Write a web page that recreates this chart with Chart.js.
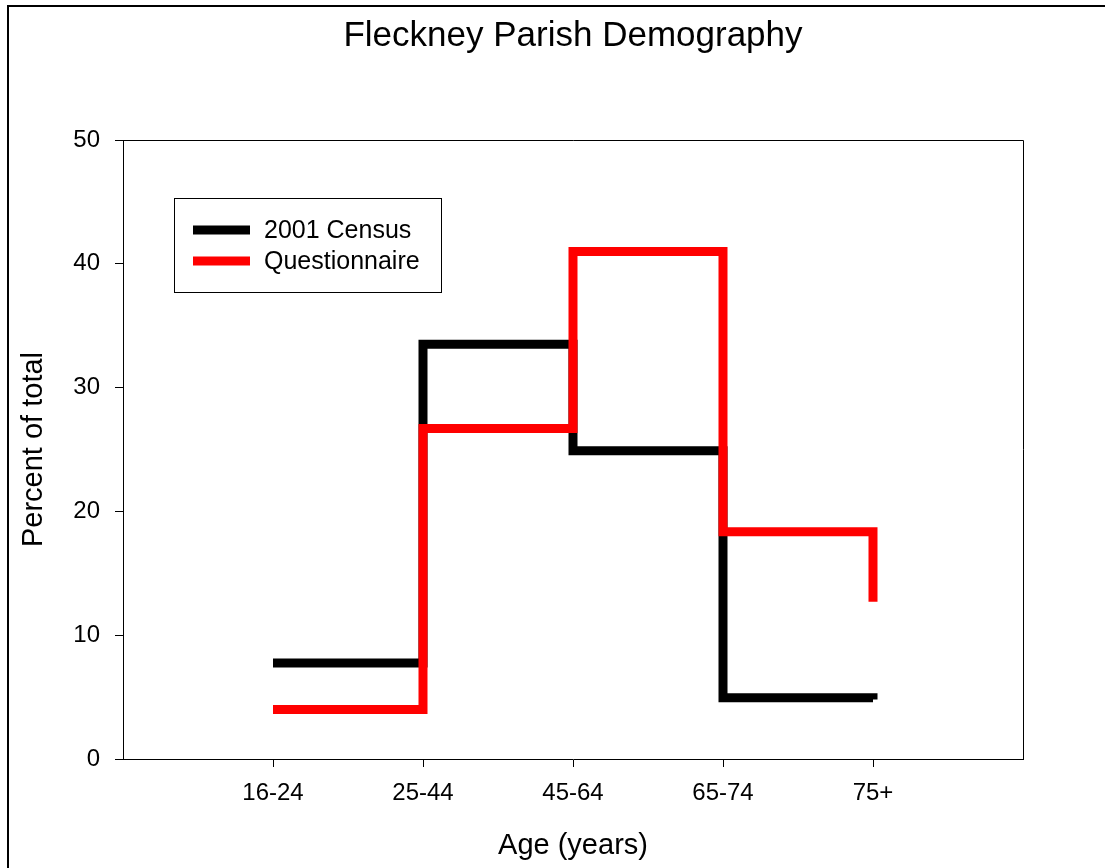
<!DOCTYPE html>
<html lang="en">
<head>
    <meta charset="UTF-8">
    <title>Fleckney Parish Demography</title>
    <script src="https://cdn.jsdelivr.net/npm/chart.js"></script>
    <style>
        body { margin: 0; background: #fff; overflow: hidden; }
        #frame { position: absolute; left: 7px; top: 5px; width: 1200px; height: 1000px; border: 2px solid #000; }
        #chart { position: absolute; left: 0; top: 0; }
    </style>
</head>
<body>
    <div id="frame"></div>
    <canvas id="chart" width="1105" height="868"></canvas>

    <script>
        // age groups and the percentages
        const ageGroups = ['16-24', '25-44', '45-64', '65-74', '75+'];
        const census2001 = [7.75, 33.5, 24.9, 4.95, 4.8];
        const questionnaire = [4.0, 26.7, 41.0, 18.35, 12.7];
        const yTicks = [0, 10, 20, 30, 40, 50];

        const FONT = "'Liberation Sans', Arial, sans-serif";

        const toPoints = vals => vals.map((v, i) => ({ x: i + 1, y: v }));

        // box around the plot area (top + right edges)
        const framePlugin = {
            id: 'plotFrame',
            afterDraw(chart) {
                const { ctx, chartArea: a } = chart;
                ctx.save();
                ctx.strokeStyle = '#000';
                ctx.lineWidth = 1;
                ctx.beginPath();
                ctx.moveTo(a.left, a.top + 0.5);
                ctx.lineTo(a.right + 0.5, a.top + 0.5);
                ctx.lineTo(a.right + 0.5, a.bottom);
                ctx.stroke();
                ctx.restore();
            }
        };

        // boxed legend inside the plot, top left
        const legendPlugin = {
            id: 'boxLegend',
            afterDraw(chart) {
                const { ctx, chartArea: a } = chart;
                const x = a.left + 51, y = a.top + 58;
                ctx.save();
                ctx.fillStyle = '#fff';
                ctx.fillRect(x, y, 267, 94);
                ctx.strokeStyle = '#000';
                ctx.lineWidth = 1;
                ctx.strokeRect(x + 0.5, y + 0.5, 267, 94);
                ctx.font = '25px ' + FONT;
                ctx.textBaseline = 'middle';
                chart.data.datasets.forEach((ds, i) => {
                    const cy = y + 32 + i * 31;
                    ctx.strokeStyle = ds.borderColor;
                    ctx.lineWidth = 9;
                    ctx.beginPath();
                    ctx.moveTo(x + 19, cy);
                    ctx.lineTo(x + 76, cy);
                    ctx.stroke();
                    ctx.fillStyle = '#000';
                    ctx.fillText(ds.label, x + 90, cy + 1);
                });
                ctx.restore();
            }
        };

        new Chart(document.getElementById('chart'), {
            type: 'line',
            data: {
                datasets: [
                    {
                        label: '2001 Census',
                        data: toPoints(census2001),
                        borderColor: '#000000',
                        borderWidth: 9,
                        stepped: 'before',
                        pointRadius: 0,
                        order: 1
                    },
                    {
                        label: 'Questionnaire',
                        data: toPoints(questionnaire),
                        borderColor: '#ff0000',
                        borderWidth: 9,
                        stepped: 'before',
                        pointRadius: 0,
                        order: 0
                    }
                ]
            },
            options: {
                responsive: false,
                animation: false,
                devicePixelRatio: 1,
                layout: { padding: { left: 0, right: 82, top: 0, bottom: 0 } },
                plugins: {
                    legend: { display: false },
                    tooltip: { enabled: false },
                    title: {
                        display: true,
                        text: 'Fleckney Parish Demography',
                        fullSize: false,
                        color: '#000',
                        font: { family: FONT, size: 35, weight: 'normal' },
                        padding: { top: 15, bottom: 83 }
                    }
                },
                scales: {
                    x: {
                        type: 'linear',
                        min: 0,
                        max: ageGroups.length + 1,
                        afterBuildTicks: scale => {
                            scale.ticks = ageGroups.map((g, i) => ({ value: i + 1 }));
                        },
                        afterFit: scale => { scale.height = 109; },
                        ticks: {
                            color: '#000',
                            font: { family: FONT, size: 24 },
                            padding: 12,
                            maxRotation: 0,
                            callback: v => ageGroups[v - 1] || ''
                        },
                        grid: { drawOnChartArea: false, tickLength: 8, color: '#000' },
                        border: { color: '#000', width: 1 },
                        title: {
                            display: true,
                            text: 'Age (years)',
                            color: '#000',
                            font: { family: FONT, size: 29 },
                            padding: { top: 0, bottom: 5 }
                        }
                    },
                    y: {
                        min: 0,
                        max: 50,
                        afterBuildTicks: scale => {
                            scale.ticks = yTicks.map(v => ({ value: v }));
                        },
                        afterFit: scale => { scale.width = 123; },
                        ticks: {
                            color: '#000',
                            font: { family: FONT, size: 24 },
                            padding: 15
                        },
                        grid: { drawOnChartArea: false, tickLength: 8, color: '#000' },
                        border: { color: '#000', width: 1 },
                        title: {
                            display: true,
                            text: 'Percent of total',
                            color: '#000',
                            font: { family: FONT, size: 29 },
                            padding: { top: 17, bottom: 0 }
                        }
                    }
                }
            },
            plugins: [framePlugin, legendPlugin]
        });
    </script>
</body>
</html>
